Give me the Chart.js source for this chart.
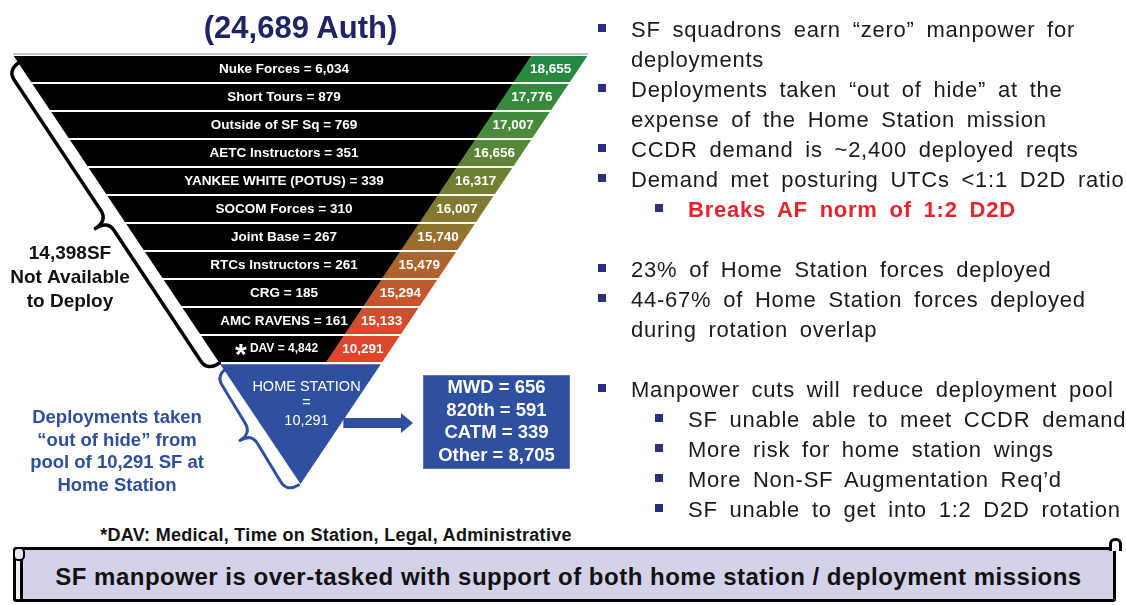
<!DOCTYPE html>
<html>
<head>
<meta charset="utf-8">
<title>SF manpower funnel</title>
<script src="https://cdn.jsdelivr.net/npm/chart.js@4.4.0/dist/chart.umd.min.js"></script>
<style>
  html, body { margin: 0; padding: 0; background: #fff; width: 1126px; height: 605px; overflow: hidden;
               font-family: 'Liberation Sans', Arial, sans-serif; }
  #funnelWrap { position: absolute; left: 0; top: 0; width: 600px; height: 500px; }
  #title { position: absolute; left: 0; top: 10px; width: 601px; text-align: center; font-weight: bold;
           font-size: 31px; line-height: 36px; color: #1f2467; }
  #bullets { position: absolute; left: 596px; top: 15px; width: 530px; font-size: 22px; line-height: 30px;
             color: #1a1a1a; letter-spacing: .75px; word-spacing: 5px; white-space: nowrap; }
  #bullets .l1, #bullets .l2 { position: relative; }
  #bullets .l1 { padding-left: 35px; }
  #bullets .l2 { padding-left: 92px; }
  #bullets .l1::before, #bullets .l2::before { content: ''; position: absolute; top: 9px; width: 8px; height: 8px;
             background: #2b2f80; }
  #bullets .l1::before { left: 2px; }
  #bullets .l2::before { left: 59px; }
  #bullets .red { color: #e8232b; font-weight: bold; }
  #bullets .gap { height: 30px; }
  #footnote { position: absolute; left: 90px; top: 524px; width: 492px; text-align: center; font-weight: bold;
              font-size: 18px; line-height: 22px; letter-spacing: .3px; color: #111; }
  #banner { position: absolute; left: 13px; top: 547px; width: 1097px; height: 49px; border: 3px solid #000;
            border-radius: 3px; background: #d4d2e9; }
  #banner .txt { position: absolute; left: 8px; right: 0; top: 0; text-align: center; font-weight: bold;
                 font-size: 24px; line-height: 54px; letter-spacing: .5px; color: #111; white-space: nowrap; }
  #curlL { position: absolute; left: 0; top: 9px; bottom: 0; width: 4px; background: #f2f2f6;
           border-right: 3px solid #000; }
  #knobL { position: absolute; left: -3px; top: -3px; width: 8px; height: 10px; border: 2px solid #000;
           border-radius: 5px; background: #e8e8f0; }
  #knobR { position: absolute; left: 1093px; top: -12px; width: 7px; height: 10px; border: 3px solid #000;
           border-bottom: none; border-radius: 6px 6px 0 0; background: #fff; }
</style>
</head>
<body>

<div id="funnelWrap"><canvas id="funnelChart" width="600" height="500"></canvas></div>
<div id="title"></div>

<div id="bullets">
  <div class="l1">SF squadrons earn “zero” manpower for<br>deployments</div>
  <div class="l1">Deployments taken “out of hide” at the<br>expense of the Home Station mission</div>
  <div class="l1">CCDR demand is ~2,400 deployed reqts</div>
  <div class="l1">Demand met posturing UTCs &lt;1:1 D2D ratio</div>
  <div class="l2 red">Breaks AF norm of 1:2 D2D</div>
  <div class="gap"></div>
  <div class="l1">23% of Home Station forces deployed</div>
  <div class="l1">44-67% of Home Station forces deployed<br>during rotation overlap</div>
  <div class="gap"></div>
  <div class="l1">Manpower cuts will reduce deployment pool</div>
  <div class="l2">SF unable able to meet CCDR demand</div>
  <div class="l2">More risk for home station wings</div>
  <div class="l2">More Non-SF Augmentation Req’d</div>
  <div class="l2">SF unable to get into 1:2 D2D rotation</div>
</div>

<div id="footnote">*DAV: Medical, Time on Station, Legal, Administrative</div>

<div id="banner">
  <div id="curlL"></div><div id="knobL"></div><div id="knobR"></div>
  <div class="txt">SF manpower is over-tasked with support of both home station / deployment missions</div>
</div>

<script>
'use strict';

// ── Data ─────────────────────────────────────────────────
const AUTHORIZED  = 24689;
const categories  = ['Nuke Forces', 'Short Tours', 'Outside of SF Sq', 'AETC Instructors',
                     'YANKEE WHITE (POTUS)', 'SOCOM Forces', 'Joint Base', 'RTCs Instructors',
                     'CRG', 'AMC RAVENS', 'DAV'];
const withheld    = [6034, 879, 769, 351, 339, 310, 267, 261, 185, 161, 4842];
const remaining   = [18655, 17776, 17007, 16656, 16317, 16007, 15740, 15479, 15294, 15133, 10291];
const homeStation = 10291;
const homeLabels  = ['MWD', '820th', 'CATM', 'Other'];
const homeValues  = [656, 591, 339, 8705];

const fmt = v => v.toLocaleString('en-US');
const notAvailable = withheld.reduce((a, b) => a + b, 0);   // 14,398

// ── Funnel geometry (x in scale units, y in rows) ────────
const CX        = 300.5;
const TOP_HALF  = 287.5;
const HOME_ROWS = 4.32;
const BAND      = 56;
const LABEL_X   = 284;
const TOP_ROW   = -0.5;
const BASE_ROW  = categories.length - 0.5;
const TIP_ROW   = BASE_ROW + HOME_ROWS;

const BLUE = '#2f4fa0';
const FONT = "'Liberation Sans', Arial, sans-serif";

function halfWidth(r) {
  return TOP_HALF * (TIP_ROW - r) / (TIP_ROW - TOP_ROW);
}

// full-width spans per row; clipped to the funnel while drawing
const rowSpans = categories.map((_, i) => [CX - halfWidth(i - 0.5) - 4, CX + halfWidth(i - 0.5) + 4]);

function geom(chart) {
  const xs = chart.scales.x, ys = chart.scales.y;
  return { x: v => xs.getPixelForValue(v), y: r => ys.getPixelForValue(r) };
}

function bandGradient(context) {
  const { chart } = context;
  const area = chart.chartArea;
  if (!area) return '#888';
  const g = chart.ctx.createLinearGradient(0, area.top, 0, area.bottom);
  g.addColorStop(0.00, '#1b8a40');
  g.addColorStop(0.25, '#4a8a3a');
  g.addColorStop(0.42, '#737e31');
  g.addColorStop(0.55, '#8e752c');
  g.addColorStop(0.70, '#b3612c');
  g.addColorStop(0.85, '#d24d2e');
  g.addColorStop(1.00, '#e5432a');
  return g;
}

function drawBrace(ctx, x0, y0, x1, y1, depth, color, width) {
  const dx = x1 - x0, dy = y1 - y0, len = Math.hypot(dx, dy);
  const ux = dx / len, uy = dy / len, nx = -uy, ny = ux;
  const P = (t, o) => [x0 + ux * t * len + nx * o, y0 + uy * t * len + ny * o];
  const h = depth / 2, q = 12 / len;
  ctx.save();
  ctx.strokeStyle = color;
  ctx.lineWidth = width;
  ctx.lineCap = 'round';
  ctx.lineJoin = 'round';
  ctx.beginPath();
  ctx.moveTo(...P(0, 0));
  ctx.quadraticCurveTo(...P(0, h), ...P(q, h));
  ctx.lineTo(...P(0.5 - q, h));
  ctx.quadraticCurveTo(...P(0.5, h), ...P(0.5, depth));
  ctx.quadraticCurveTo(...P(0.5, h), ...P(0.5 + q, h));
  ctx.lineTo(...P(1 - q, h));
  ctx.quadraticCurveTo(...P(1, h), ...P(1, 0));
  ctx.stroke();
  ctx.restore();
}

function text(ctx, str, x, y, font, color, align = 'center') {
  ctx.font = font;
  ctx.fillStyle = color;
  ctx.textAlign = align;
  ctx.textBaseline = 'middle';
  ctx.fillText(str, x, y);
}

// ── Funnel plugin ────────────────────────────────────────
const funnelPlugin = {
  id: 'funnel',
  beforeDatasetDraw(chart, args) {
    const { ctx } = chart;
    const g = geom(chart);
    const yTop = g.y(TOP_ROW), yTip = g.y(TIP_ROW);
    ctx.save();
    ctx.beginPath();
    ctx.moveTo(g.x(CX - TOP_HALF), yTop);
    ctx.lineTo(g.x(CX + TOP_HALF), yTop);
    ctx.lineTo(g.x(CX), yTip);
    ctx.closePath();
    ctx.clip();
    const b0 = g.x(CX + TOP_HALF - BAND), b1 = g.x(CX - BAND);
    ctx.beginPath();
    if (args.index === 0) {
      ctx.moveTo(g.x(0), yTop); ctx.lineTo(b0, yTop); ctx.lineTo(b1, yTip); ctx.lineTo(g.x(0), yTip);
    } else {
      ctx.moveTo(b0, yTop); ctx.lineTo(g.x(600), yTop); ctx.lineTo(g.x(600), yTip); ctx.lineTo(b1, yTip);
    }
    ctx.closePath();
    ctx.clip();
  },
  afterDatasetDraw(chart) {
    chart.ctx.restore();
  },
  afterDatasetsDraw(chart) {
    const { ctx } = chart;
    const g = geom(chart);
    const rowPx = g.y(1) - g.y(0);

    // top rim
    ctx.save();
    ctx.strokeStyle = '#c4c4c4';
    ctx.lineWidth = 2;
    ctx.beginPath();
    ctx.moveTo(g.x(CX - TOP_HALF), g.y(TOP_ROW) - 1);
    ctx.lineTo(g.x(CX + TOP_HALF), g.y(TOP_ROW) - 1);
    ctx.stroke();
    ctx.restore();

    // home station triangle
    const r0 = BASE_ROW + 1.2 / rowPx;
    ctx.fillStyle = BLUE;
    ctx.beginPath();
    ctx.moveTo(g.x(CX - halfWidth(r0)), g.y(r0));
    ctx.lineTo(g.x(CX + halfWidth(r0)), g.y(r0));
    ctx.lineTo(g.x(CX), g.y(TIP_ROW));
    ctx.closePath();
    ctx.fill();

    // row labels and remaining counts
    categories.forEach((cat, i) => {
      const y = g.y(i);
      if (cat === 'DAV') {
        const s = `${cat} = ${fmt(withheld[i])}`;
        ctx.font = `bold 12px ${FONT}`;
        const w = ctx.measureText(s).width;
        text(ctx, s, g.x(LABEL_X), y, `bold 12px ${FONT}`, '#fff');
        text(ctx, '*', g.x(LABEL_X) - w / 2 - 9, y + 7, `bold 30px ${FONT}`, '#fff');
      } else {
        text(ctx, `${cat} = ${fmt(withheld[i])}`, g.x(LABEL_X), y, `bold 13.5px ${FONT}`, '#fff');
      }
      text(ctx, fmt(remaining[i]), g.x(CX + halfWidth(i) - BAND / 2), y, `bold 13.5px ${FONT}`, '#fff');
    });

    // braces
    const yb = g.y(BASE_ROW);
    drawBrace(ctx, g.x(CX - halfWidth(TOP_ROW + 0.25)) + 2, g.y(TOP_ROW + 0.25),
              g.x(CX - halfWidth(BASE_ROW)), yb, 29, '#000', 3.5);
    drawBrace(ctx, g.x(CX - halfWidth(BASE_ROW)) + 8, yb + 5,
              g.x(CX) - 2, g.y(TIP_ROW) + 1, 27, BLUE, 3);

    // home station text
    const hx = g.x(CX) + 6;
    text(ctx, 'HOME STATION', hx, 387, `14.5px ${FONT}`, '#fff');
    text(ctx, '=', hx, 403, `14.5px ${FONT}`, '#fff');
    text(ctx, fmt(homeStation), hx, 421, `14.5px ${FONT}`, '#fff');

    // arrow
    const ay = 423;
    const ax0 = g.x(CX + halfWidth(BASE_ROW + (ay - yb) / rowPx)) + 2;
    ctx.fillStyle = BLUE;
    ctx.beginPath();
    ctx.moveTo(ax0, ay - 5); ctx.lineTo(401, ay - 5); ctx.lineTo(401, ay - 10);
    ctx.lineTo(413, ay); ctx.lineTo(401, ay + 10); ctx.lineTo(401, ay + 5); ctx.lineTo(ax0, ay + 5);
    ctx.closePath();
    ctx.fill();

    // breakdown box
    ctx.fillStyle = BLUE;
    ctx.fillRect(423, 375, 147, 94);
    ctx.strokeStyle = '#5b74b8';
    ctx.lineWidth = 1;
    ctx.strokeRect(423.5, 375.5, 146, 93);
    homeLabels.forEach((lab, i) => {
      text(ctx, `${lab} = ${fmt(homeValues[i])}`, 496.5, 388 + i * 22.7, `bold 18.5px ${FONT}`, '#fff');
    });

    // side annotations
    const black = `bold 19px ${FONT}`;
    text(ctx, `${fmt(notAvailable)}SF`, 70, 254, black, '#111');
    text(ctx, 'Not Available', 70, 278, black, '#111');
    text(ctx, 'to Deploy', 70, 302, black, '#111');

    const blue = `bold 18.5px ${FONT}`;
    ['Deployments taken', '“out of hide” from', `pool of ${fmt(homeStation)} SF at`, 'Home Station']
      .forEach((s, i) => text(ctx, s, 117, 418 + i * 22.7, blue, '#2e4e9e'));
  },
};

// ── Chart ────────────────────────────────────────────────
document.getElementById('title').textContent = `(${fmt(AUTHORIZED)} Auth)`;

const ctx = document.getElementById('funnelChart').getContext('2d');
new Chart(ctx, {
  type: 'bar',
  data: {
    labels: categories,
    datasets: [
      {
        label: 'Not available',
        data: rowSpans,
        backgroundColor: '#000',
        grouped: false,
        barPercentage: 1,
        categoryPercentage: 0.92,
        borderWidth: 0,
        borderSkipped: false,
      },
      {
        label: 'Remaining',
        data: rowSpans,
        backgroundColor: bandGradient,
        grouped: false,
        barPercentage: 1,
        categoryPercentage: 0.92,
        borderWidth: 0,
        borderSkipped: false,
      },
    ],
  },
  options: {
    indexAxis: 'y',
    responsive: false,
    animation: false,
    devicePixelRatio: 1,
    layout: { padding: { top: 55, bottom: 137, left: 0, right: 0 } },
    scales: {
      x: { type: 'linear', min: 0, max: 600, display: false },
      y: { display: false },
    },
    plugins: {
      legend: { display: false },
      tooltip: { enabled: false },
    },
  },
  plugins: [funnelPlugin],
});
</script>
</body>
</html>
